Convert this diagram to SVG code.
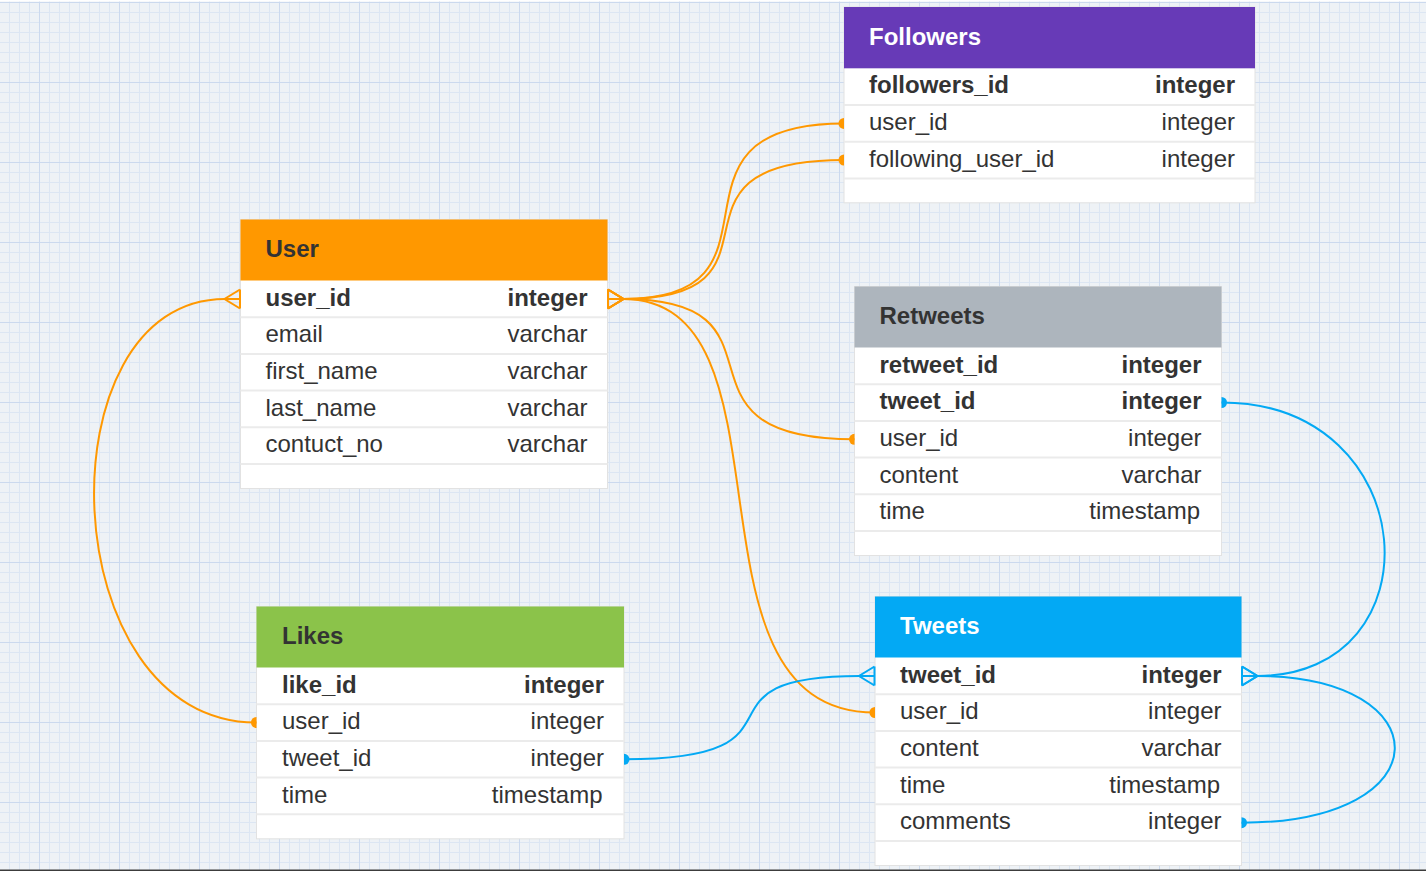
<svg xmlns="http://www.w3.org/2000/svg" width="1426" height="871" viewBox="0 0 1426 871">
<style>
.bg{fill:#EEF2F6}
.body{fill:#FFFFFF;stroke:#E2E2E2;stroke-width:1}
.sep{stroke:#EBEBEB;stroke-width:2}
.t{font-family:"Liberation Sans",Arial,Helvetica,sans-serif;font-size:24px;fill:#333333}
.b{font-weight:bold}
.r{text-anchor:end}
.w{fill:#FFFFFF}
.co{fill:none;stroke:#FF9800;stroke-width:2}
.cb{fill:none;stroke:#03A9F4;stroke-width:2}
</style>
<defs>
<pattern id="grid" patternUnits="userSpaceOnUse" x="39" y="2" width="80" height="80">
<rect width="80" height="80" fill="#EEF2F6"/>
<path d="M10.5,0V80M20.5,0V80M30.5,0V80M40.5,0V80M50.5,0V80M60.5,0V80M70.5,0V80M0,10.5H80M0,20.5H80M0,30.5H80M0,40.5H80M0,50.5H80M0,60.5H80M0,70.5H80" stroke="#DCE6F3" stroke-width="1" fill="none"/>
<path d="M0.5,0V80M0,0.5H80" stroke="#CBD9EE" stroke-width="1" fill="none"/>
</pattern>
<marker id="manyO" markerUnits="userSpaceOnUse" markerWidth="20" markerHeight="24" refX="0" refY="0" viewBox="-2 -11 20 22" orient="auto" overflow="visible">
<path d="M0,-9.5L15.5,0L0,9.5M0,0H15.5M0,-9.5V9.5" fill="none" stroke="#FF9800" stroke-width="2"/>
</marker>
<marker id="manyB" markerUnits="userSpaceOnUse" markerWidth="20" markerHeight="24" refX="0" refY="0" viewBox="-2 -11 20 22" orient="auto" overflow="visible">
<path d="M0,-9.5L15.5,0L0,9.5M0,0H15.5M0,-9.5V9.5" fill="none" stroke="#03A9F4" stroke-width="2"/>
</marker>
<marker id="oneO" markerUnits="userSpaceOnUse" markerWidth="12" markerHeight="12" refX="0" refY="0" viewBox="-6 -6 12 12" orient="auto" overflow="visible">
<path d="M0,-5.5A5.5,5.5 0 0 0 0,5.5Z" fill="#FF9800"/>
</marker>
<marker id="oneB" markerUnits="userSpaceOnUse" markerWidth="12" markerHeight="12" refX="0" refY="0" viewBox="-6 -6 12 12" orient="auto" overflow="visible">
<path d="M0,-5.5A5.5,5.5 0 0 0 0,5.5Z" fill="#03A9F4"/>
</marker>
</defs>
<rect width="1426" height="871" fill="url(#grid)"/>
<rect x="0" y="0" width="1426" height="1.5" fill="#FFFFFF"/>
<rect x="0" y="869.5" width="1426" height="1.5" fill="#3C3C3C"/>

<g id="user">
<rect class="body" x="240.5" y="219.5" width="367" height="269"/>
<rect x="240.5" y="219.5" width="367" height="61" fill="#FF9800"/>
<text class="t b" x="265.5" y="257">User</text>
<path class="sep" d="M240.5,317.2H607.5M240.5,353.9H607.5M240.5,390.6H607.5M240.5,427.3H607.5M240.5,464H607.5"/>
<text class="t b" x="265.5" y="305.5">user_id</text><text class="t b r" x="587.5" y="305.5">integer</text>
<text class="t" x="265.5" y="342.2">email</text><text class="t r" x="587.5" y="342.2">varchar</text>
<text class="t" x="265.5" y="378.9">first_name</text><text class="t r" x="587.5" y="378.9">varchar</text>
<text class="t" x="265.5" y="415.6">last_name</text><text class="t r" x="587.5" y="415.6">varchar</text>
<text class="t" x="265.5" y="452.3">contuct_no</text><text class="t r" x="587.5" y="452.3">varchar</text>
</g>

<g id="followers">
<rect class="body" x="844" y="7" width="411" height="195.8"/>
<rect x="844" y="7" width="411" height="61.3" fill="#673AB7"/>
<text class="t b w" x="869" y="44.5">Followers</text>
<path class="sep" d="M844,105H1255M844,141.7H1255M844,178.4H1255"/>
<text class="t b" x="869" y="93.3">followers_id</text><text class="t b r" x="1235" y="93.3">integer</text>
<text class="t" x="869" y="130">user_id</text><text class="t r" x="1235" y="130">integer</text>
<text class="t" x="869" y="166.7">following_user_id</text><text class="t r" x="1235" y="166.7">integer</text>
</g>

<g id="retweets">
<rect class="body" x="854.5" y="286.5" width="367" height="269"/>
<rect x="854.5" y="286.5" width="367" height="61" fill="#ADB5BD"/>
<text class="t b" x="879.5" y="324">Retweets</text>
<path class="sep" d="M854.5,384.2H1221.5M854.5,420.9H1221.5M854.5,457.6H1221.5M854.5,494.3H1221.5M854.5,531H1221.5"/>
<text class="t b" x="879.5" y="372.5">retweet_id</text><text class="t b r" x="1201.5" y="372.5">integer</text>
<text class="t b" x="879.5" y="409.2">tweet_id</text><text class="t b r" x="1201.5" y="409.2">integer</text>
<text class="t" x="879.5" y="445.9">user_id</text><text class="t r" x="1201.5" y="445.9">integer</text>
<text class="t" x="879.5" y="482.6">content</text><text class="t r" x="1201.5" y="482.6">varchar</text>
<text class="t" x="879.5" y="519.3">time</text><text class="t r" x="1200" y="519.3">timestamp</text>
</g>

<g id="likes">
<rect class="body" x="256.5" y="606.5" width="367.5" height="232.3"/>
<rect x="256.5" y="606.5" width="367.5" height="61" fill="#8BC34A"/>
<text class="t b" x="282" y="644">Likes</text>
<path class="sep" d="M256.5,704.2H624M256.5,740.9H624M256.5,777.6H624M256.5,814.3H624"/>
<text class="t b" x="282" y="692.5">like_id</text><text class="t b r" x="604" y="692.5">integer</text>
<text class="t" x="282" y="729.2">user_id</text><text class="t r" x="604" y="729.2">integer</text>
<text class="t" x="282" y="765.9">tweet_id</text><text class="t r" x="604" y="765.9">integer</text>
<text class="t" x="282" y="802.6">time</text><text class="t r" x="602.5" y="802.6">timestamp</text>
</g>

<g id="tweets">
<rect class="body" x="875" y="596.5" width="366.5" height="269"/>
<rect x="875" y="596.5" width="366.5" height="61" fill="#03A9F4"/>
<text class="t b w" x="900" y="634">Tweets</text>
<path class="sep" d="M875,694.2H1241.5M875,730.9H1241.5M875,767.6H1241.5M875,804.3H1241.5M875,841H1241.5"/>
<text class="t b" x="900" y="682.5">tweet_id</text><text class="t b r" x="1221.5" y="682.5">integer</text>
<text class="t" x="900" y="719.2">user_id</text><text class="t r" x="1221.5" y="719.2">integer</text>
<text class="t" x="900" y="755.9">content</text><text class="t r" x="1221.5" y="755.9">varchar</text>
<text class="t" x="900" y="792.6">time</text><text class="t r" x="1220" y="792.6">timestamp</text>
<text class="t" x="900" y="829.3">comments</text><text class="t r" x="1221.5" y="829.3">integer</text>
</g>

<g id="connectors">
<path class="co" marker-start="url(#manyO)" marker-end="url(#oneO)" d="M608,299L623,299C803,299 644,123.4 844,123.4"/>
<path class="co" marker-start="url(#manyO)" marker-end="url(#oneO)" d="M608,299L623,299C803,299 644,160 844,160"/>
<path class="co" marker-start="url(#manyO)" marker-end="url(#oneO)" d="M608,299L623,299C803,299 654,439.3 854.5,439.3"/>
<path class="co" marker-start="url(#manyO)" marker-end="url(#oneO)" d="M608,299L623,299C805,299 670,712.5 875,712.5"/>
<path class="co" marker-start="url(#manyO)" marker-end="url(#oneO)" d="M240,299L225,299C40,299 51.5,722.5 256.5,722.5"/>
<path class="cb" marker-start="url(#manyB)" marker-end="url(#oneB)" d="M874.5,676L859.5,676C679.5,676 824,759.3 624,759.3"/>
<path class="cb" marker-start="url(#manyB)" marker-end="url(#oneB)" d="M1242,676L1257,676C1440,676 1424.5,402.5 1221.5,402.5"/>
<path class="cb" marker-start="url(#manyB)" marker-end="url(#oneB)" d="M1242,676L1257,676C1441,676 1445.5,822.7 1241.5,822.7"/>
</g>
</svg>
